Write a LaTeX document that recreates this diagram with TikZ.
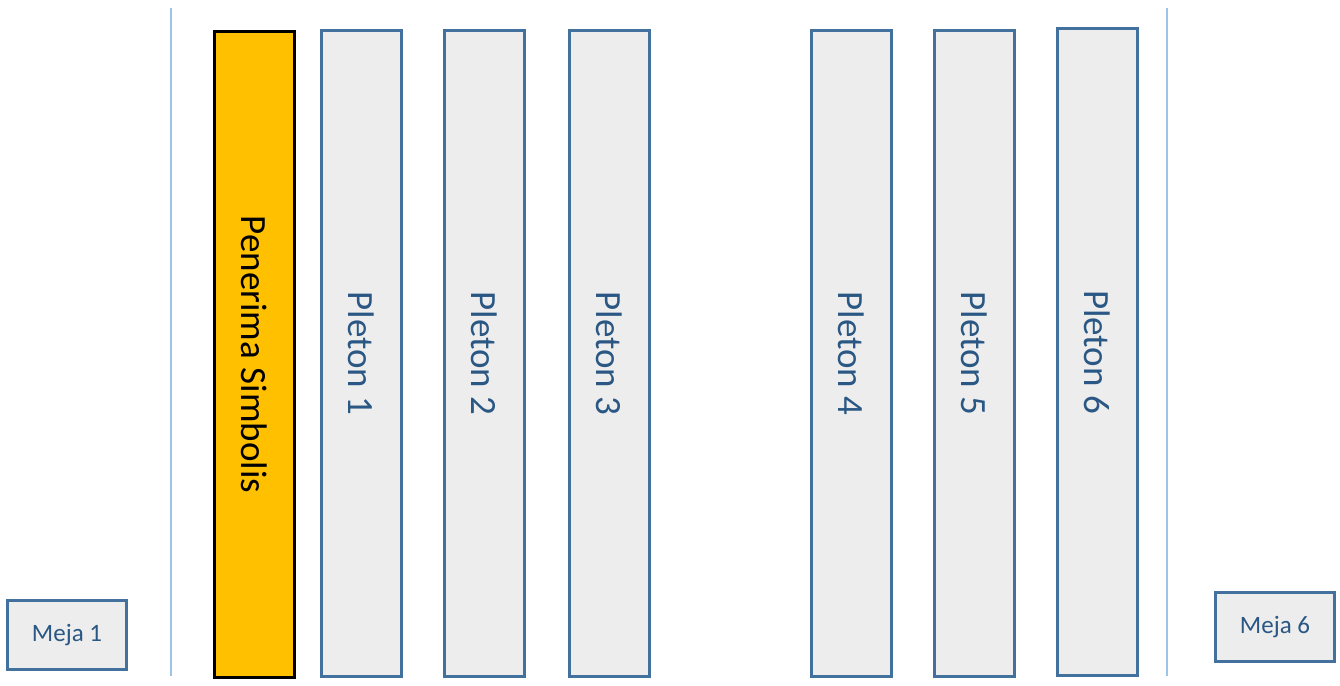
\documentclass[tikz,border=0pt]{standalone}
\usepackage{fontspec}
\setmainfont{Carlito}
\usepackage{xcolor}
\usepackage{tikz}
\definecolor{plfill}{HTML}{EDEDED}
\definecolor{pldraw}{HTML}{41719C}
\definecolor{pltext}{HTML}{2A5783}
\definecolor{sepline}{HTML}{9DC3E6}
\definecolor{gold}{HTML}{FFC000}
\tikzset{
  pleton/.style={draw=pldraw, fill=plfill, line width=3pt, rotate=-90,
    minimum width=646pt, minimum height=80pt, inner sep=0pt, text=pltext,
    font=\fontsize{37}{40}\selectfont},
  meja/.style={draw=pldraw, fill=plfill, line width=3pt,
    minimum width=119pt, minimum height=69pt, inner sep=0pt, text=pltext,
    font=\fontsize{25}{28}\selectfont}
}

\begin{document}
\begin{tikzpicture}[x=1pt,y=-1pt]
\useasboundingbox (0,0) rectangle (1340,685);

% separators
\draw[sepline, line width=2pt] (171,8) -- (171,676);
\draw[sepline, line width=2pt] (1167,8) -- (1167,676);

% tables
\node[meja] (meja1) at (67,635) {Meja 1};
\node[meja] (meja6) at (1275,627) {Meja 6};

% receiver
\node[draw=black, fill=gold, line width=3.5pt, rotate=-90, minimum width=646pt,
  minimum height=80pt, inner sep=0pt, font=\fontsize{37}{40}\selectfont]
  (penerima) at (254.5,354.5) {Penerima Simbolis};

% pletons
\node[pleton] (p1) at (361.5,353.5) {Pleton 1};
\node[pleton] (p2) at (484,353.5) {Pleton 2};
\node[pleton] (p3) at (609.5,353.5) {Pleton 3};
\node[pleton] (p4) at (851.5,353.5) {Pleton 4};
\node[pleton] (p5) at (974.5,353.5) {Pleton 5};
\node[pleton] (p6) at (1097.5,352) {Pleton 6};
\end{tikzpicture}
\end{document}
